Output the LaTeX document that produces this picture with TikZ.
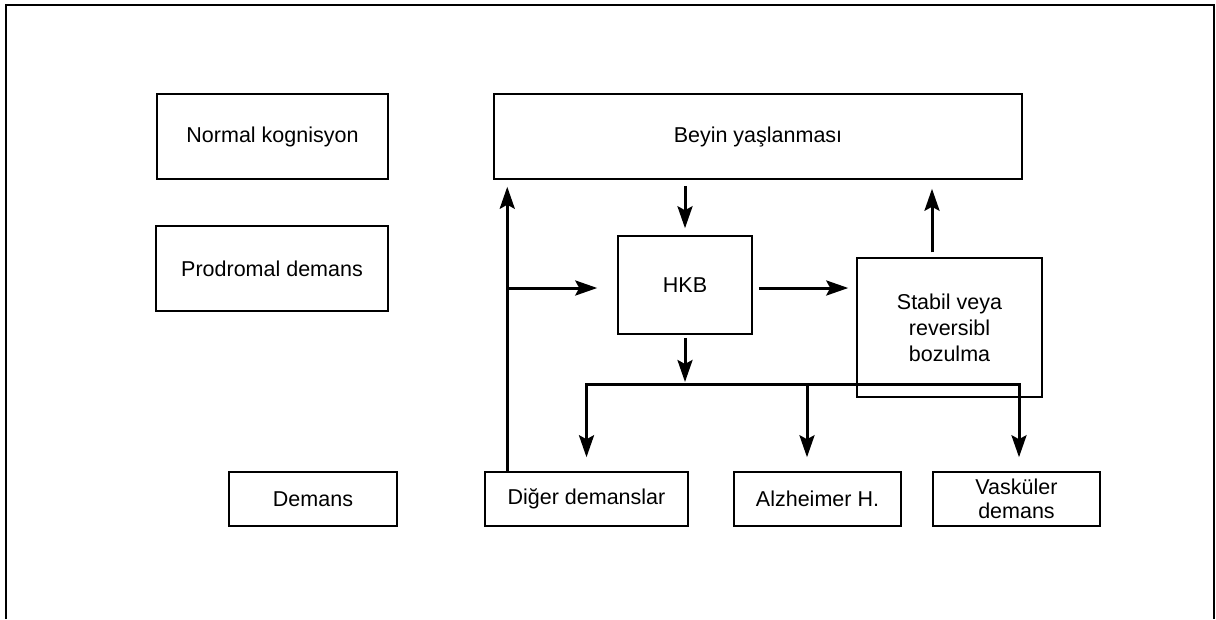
\documentclass[tikz,border=0pt]{standalone}
\usepackage{fontspec}
\setmainfont{Liberation Sans}
\usetikzlibrary{arrows.meta,calc}
\begin{document}
\begin{tikzpicture}[x=1pt,y=-1pt,
  box/.style={draw, line width=1.5pt, inner sep=0pt, align=center,
    font=\fontsize{21.5}{26}\selectfont},
  arr/.style={line width=3pt, -{Stealth[length=22pt,width=15pt,inset=4pt]}},
  bus/.style={line width=3pt},
  frame/.style={line width=2pt}]
\useasboundingbox (0,0) rectangle (1216,619);
\draw[frame] (6,619) -- (6,4.5) -- (1214,4.5) -- (1214,619);
% nodes
\node[box, minimum width=231pt, minimum height=85pt] (normal) at (272.5,136.5) {Normal kognisyon};
\node[box, minimum width=528pt, minimum height=85pt] (beyin) at (758,136.5) {Beyin yaşlanması};
\node[box, minimum width=232pt, minimum height=85pt] (prod) at (272,268.5) {Prodromal demans};
\node[box, minimum width=134pt, minimum height=98pt] (hkb) at (685,285) {HKB};
\node[box, minimum width=185pt, minimum height=139pt] (stabil) at (949.5,327.5) {Stabil veya\\reversibl\\bozulma};
\node[box, minimum width=168pt, minimum height=54pt] (demans) at (313,499) {Demans};
\node[box, minimum width=203pt, minimum height=54pt] (diger) at (586.5,499) {Diğer demanslar};
\node[box, minimum width=167pt, minimum height=54pt] (alz) at (817.5,499) {Alzheimer H.};
\node[box, minimum width=167pt, minimum height=54pt, font=\fontsize{21.5}{24}\selectfont] (vask) at (1016.5,499) {Vasküler\\demans};
% helper coordinates
\coordinate (lx) at ([xshift=23pt]diger.north west);
\coordinate (b1) at (diger.north |- 0,384);
\coordinate (b3) at ([xshift=2.5pt]vask.north |- 0,384);
% connectors
\draw[arr, shorten <=6pt, shorten >=7pt] (hkb.north |- beyin.south) -- (hkb.north);
\draw[arr, shorten >=7pt] (lx) -- (lx |- beyin.south);
\draw[arr, shorten >=20pt] ($(lx |- hkb.west)+(0,3)$) -- ($(hkb.west)+(0,3)$);
\draw[arr, shorten <=6pt, shorten >=8pt] ($(hkb.east)+(0,3)$) -- ($(hkb.east -| stabil.west)+(0,3)$);
\draw[arr, shorten <=5pt, shorten >=9pt] ([xshift=-17.5pt]stabil.north) -- ([xshift=-17.5pt]stabil.north |- beyin.south);
\draw[arr, shorten <=3pt, shorten >=2pt] (hkb.south) -- (hkb.south |- b1);
\draw[bus] ([xshift=-1.5pt]b1) -- ([xshift=1.5pt]b3);
\draw[arr, shorten >=14pt] (b1) -- (diger.north);
\draw[arr, shorten >=14pt] ([xshift=-10.5pt]alz.north |- b1) -- ([xshift=-10.5pt]alz.north);
\draw[arr, shorten >=14pt] (b3) -- ([xshift=2.5pt]vask.north);
\end{tikzpicture}
\end{document}
